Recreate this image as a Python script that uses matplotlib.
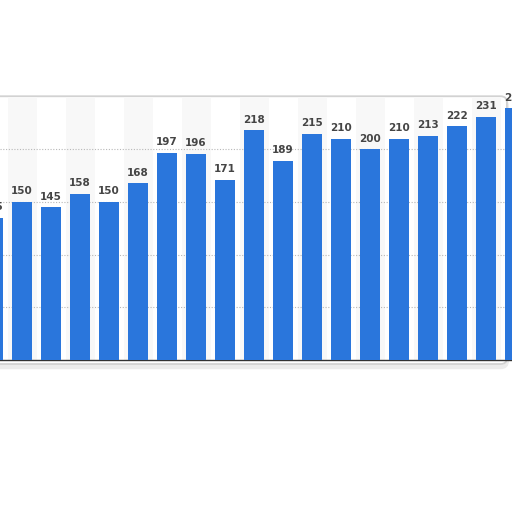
import matplotlib

matplotlib.use("Agg")
import matplotlib.pyplot as plt
from matplotlib.patches import FancyBboxPatch

# values, left (cut off) to right (cut off)
values = [135, 150, 145, 158, 150, 168, 197, 196, 171, 218,
          189, 215, 210, 200, 210, 213, 222, 231, 239]
labels = [str(v) for v in values]
grid_levels = [50, 100, 150, 200]

BAR_COLOR = "#2a76dc"
STRIPE = "#f8f8f8"
LABEL_COLOR = "#454545"

fig = plt.figure(figsize=(5.12, 5.12), dpi=100)
fig.patch.set_facecolor("white")

# rounded chart panel with a soft shadow
shadow = FancyBboxPatch((-0.03, 0.283), 1.02, 0.522,
                        boxstyle="round,pad=0,rounding_size=0.012",
                        transform=fig.transFigure, facecolor="none",
                        edgecolor="#ececec", linewidth=3.0, zorder=0)
panel = FancyBboxPatch((-0.03, 0.289), 1.02, 0.523,
                       boxstyle="round,pad=0,rounding_size=0.012",
                       transform=fig.transFigure, facecolor="white",
                       edgecolor="#d2d2d2", linewidth=1.3, zorder=1)
fig.patches.extend([shadow, panel])

ax = fig.add_axes([0.0, 0.297, 1.0, 0.514])
ax.patch.set_visible(False)
ax.set_zorder(2)

x = list(range(len(values)))
for i in x:
    if i % 2 == 1:
        ax.axvspan(i - 0.5, i + 0.5, color=STRIPE, zorder=0, lw=0)

for lvl in grid_levels:
    ax.axhline(lvl, color="#b8b8b8", linestyle=(0, (1, 1.5)), linewidth=0.8, zorder=1)

bars = ax.bar(x, values, width=0.69, color=BAR_COLOR, zorder=3)
for rect, lab in zip(bars, labels):
    ax.annotate(lab, (rect.get_x() + rect.get_width() / 2, rect.get_height()),
                xytext=(0, 4), textcoords="offset points", ha="center", va="bottom",
                fontsize=7.5, fontweight="bold", color=LABEL_COLOR,
                annotation_clip=False, zorder=4)

ax.set_xlim(7 / 29, 519 / 29)
ax.set_ylim(0, 250)
for side in ["top", "left", "right"]:
    ax.spines[side].set_visible(False)
ax.spines["bottom"].set_color("#333333")
ax.spines["bottom"].set_linewidth(1.0)
ax.set_xticks([])
ax.set_yticks([])

fig.savefig("out.png", dpi=100)
